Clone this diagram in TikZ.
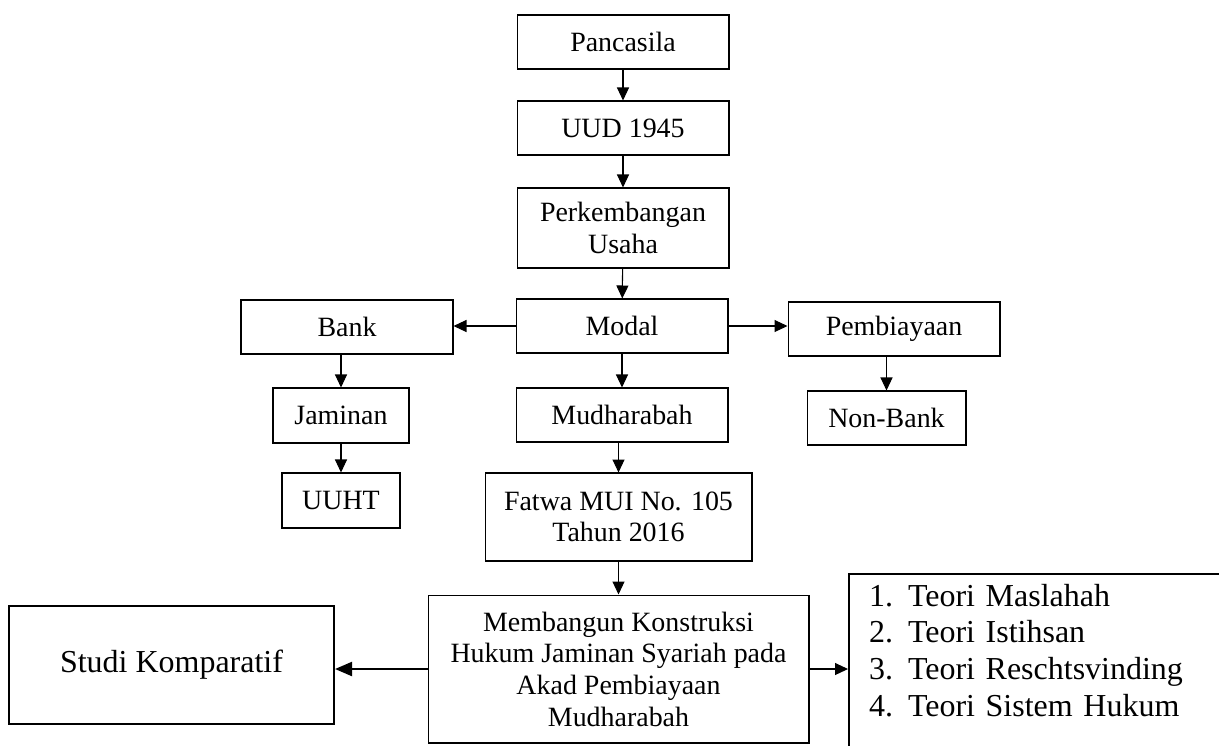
\documentclass[tikz,border=0pt]{standalone}
\usepackage{fontspec}
\setmainfont{Liberation Serif}
\usepackage{tikz}
\usetikzlibrary{arrows.meta, positioning}

\begin{document}
\begin{tikzpicture}[x=0.02cm, y=-0.02cm,
    kotak/.style={draw, line width=0.6pt, align=center, inner sep=0pt, font=\fontsize{15.9}{18}\selectfont},
    panah/.style={-{Triangle[length=0.26cm, width=0.24cm]}, line width=0.6pt},
    panahtebal/.style={-{Triangle[length=0.34cm, width=0.28cm]}, line width=1.2pt}]
    \useasboundingbox (0,0) rectangle (1219,745);
    \clip (0,0) rectangle (1219,745);

    % Main column
    \node[kotak, minimum width=4.24cm, minimum height=1.08cm] (pancasila) at (623,42) {Pancasila};
    \node[kotak, minimum width=4.24cm, minimum height=1.08cm] (uud) at (623,128) {UUD 1945};
    \node[kotak, minimum width=4.24cm, minimum height=1.6cm] (usaha) at (623,228) {Perkembangan\\Usaha};
    \node[kotak, minimum width=4.24cm, minimum height=1.08cm] (modal) at (622,326) {Modal};

    % Side branches
    \node[kotak, minimum width=4.24cm, minimum height=1.08cm] (bank) at (347,327) {Bank};
    \node[kotak, minimum width=4.24cm, minimum height=1.08cm] (pembiayaan) at (894,329) {Pembiayaan};
    \node[kotak, minimum width=2.72cm, minimum height=1.1cm] (jaminan) at (341,415.5) {Jaminan};
    \node[kotak, minimum width=2.36cm, minimum height=1.1cm] (uuht) at (341,500.5) {UUHT};
    \node[kotak, minimum width=3.18cm, minimum height=1.08cm] (nonbank) at (886.5,418) {Non-Bank};

    % Lower column
    \node[kotak, minimum width=4.24cm, minimum height=1.08cm] (mudharabah) at (622,415) {Mudharabah};
    \node[kotak, minimum width=5.34cm, minimum height=1.76cm] (fatwa) at (618.5,517) {Fatwa MUI No. 105\\Tahun 2016};
    \node[kotak, minimum width=7.62cm, minimum height=2.96cm] (konstruksi) at (618.5,669)
        {Membangun Konstruksi\\Hukum Jaminan Syariah pada\\Akad Pembiayaan\\Mudharabah};

    % Bottom left and right
    \node[kotak, line width=1.2pt, minimum width=6.5cm, minimum height=2.36cm,
        font=\fontsize{18.2}{20.9}\selectfont] (studi) at (171.5,665) {Studi Komparatif};
    \node[draw, line width=1.2pt, anchor=north west, align=left, inner xsep=0.4cm, inner ysep=0.2cm,
        text width=8cm, text depth=3cm, font=\fontsize{18.2}{20.9}\selectfont] (teori) at (848,573)
        {\makebox[0.78cm][l]{1.}Teori Maslahah\\
         \makebox[0.78cm][l]{2.}Teori Istihsan\\
         \makebox[0.78cm][l]{3.}Teori Reschtsvinding\\
         \makebox[0.78cm][l]{4.}Teori Sistem Hukum};

    % Connectors
    \draw[panah] (pancasila) -- (uud);
    \draw[panah] (uud) -- (usaha);
    \draw[panah] (usaha) -- (modal);
    \draw[panah] (modal.west) -- (bank.east |- modal.west);
    \draw[panah] (modal.east) -- (pembiayaan.west |- modal.east);
    \draw[panah] (jaminan.north |- bank.south) -- (jaminan.north);
    \draw[panah] (jaminan) -- (uuht);
    \draw[panah] (nonbank.north |- pembiayaan.south) -- (nonbank.north);
    \draw[panah] (modal) -- (mudharabah);
    \draw[panah] (fatwa.north |- mudharabah.south) -- (fatwa.north);
    \draw[panah] (fatwa) -- (konstruksi);
    \draw[panahtebal] (konstruksi.west) -- (studi.east |- konstruksi.west);
    \draw[panah] (konstruksi.east) -- (teori.west |- konstruksi.east);
\end{tikzpicture}
\end{document}
